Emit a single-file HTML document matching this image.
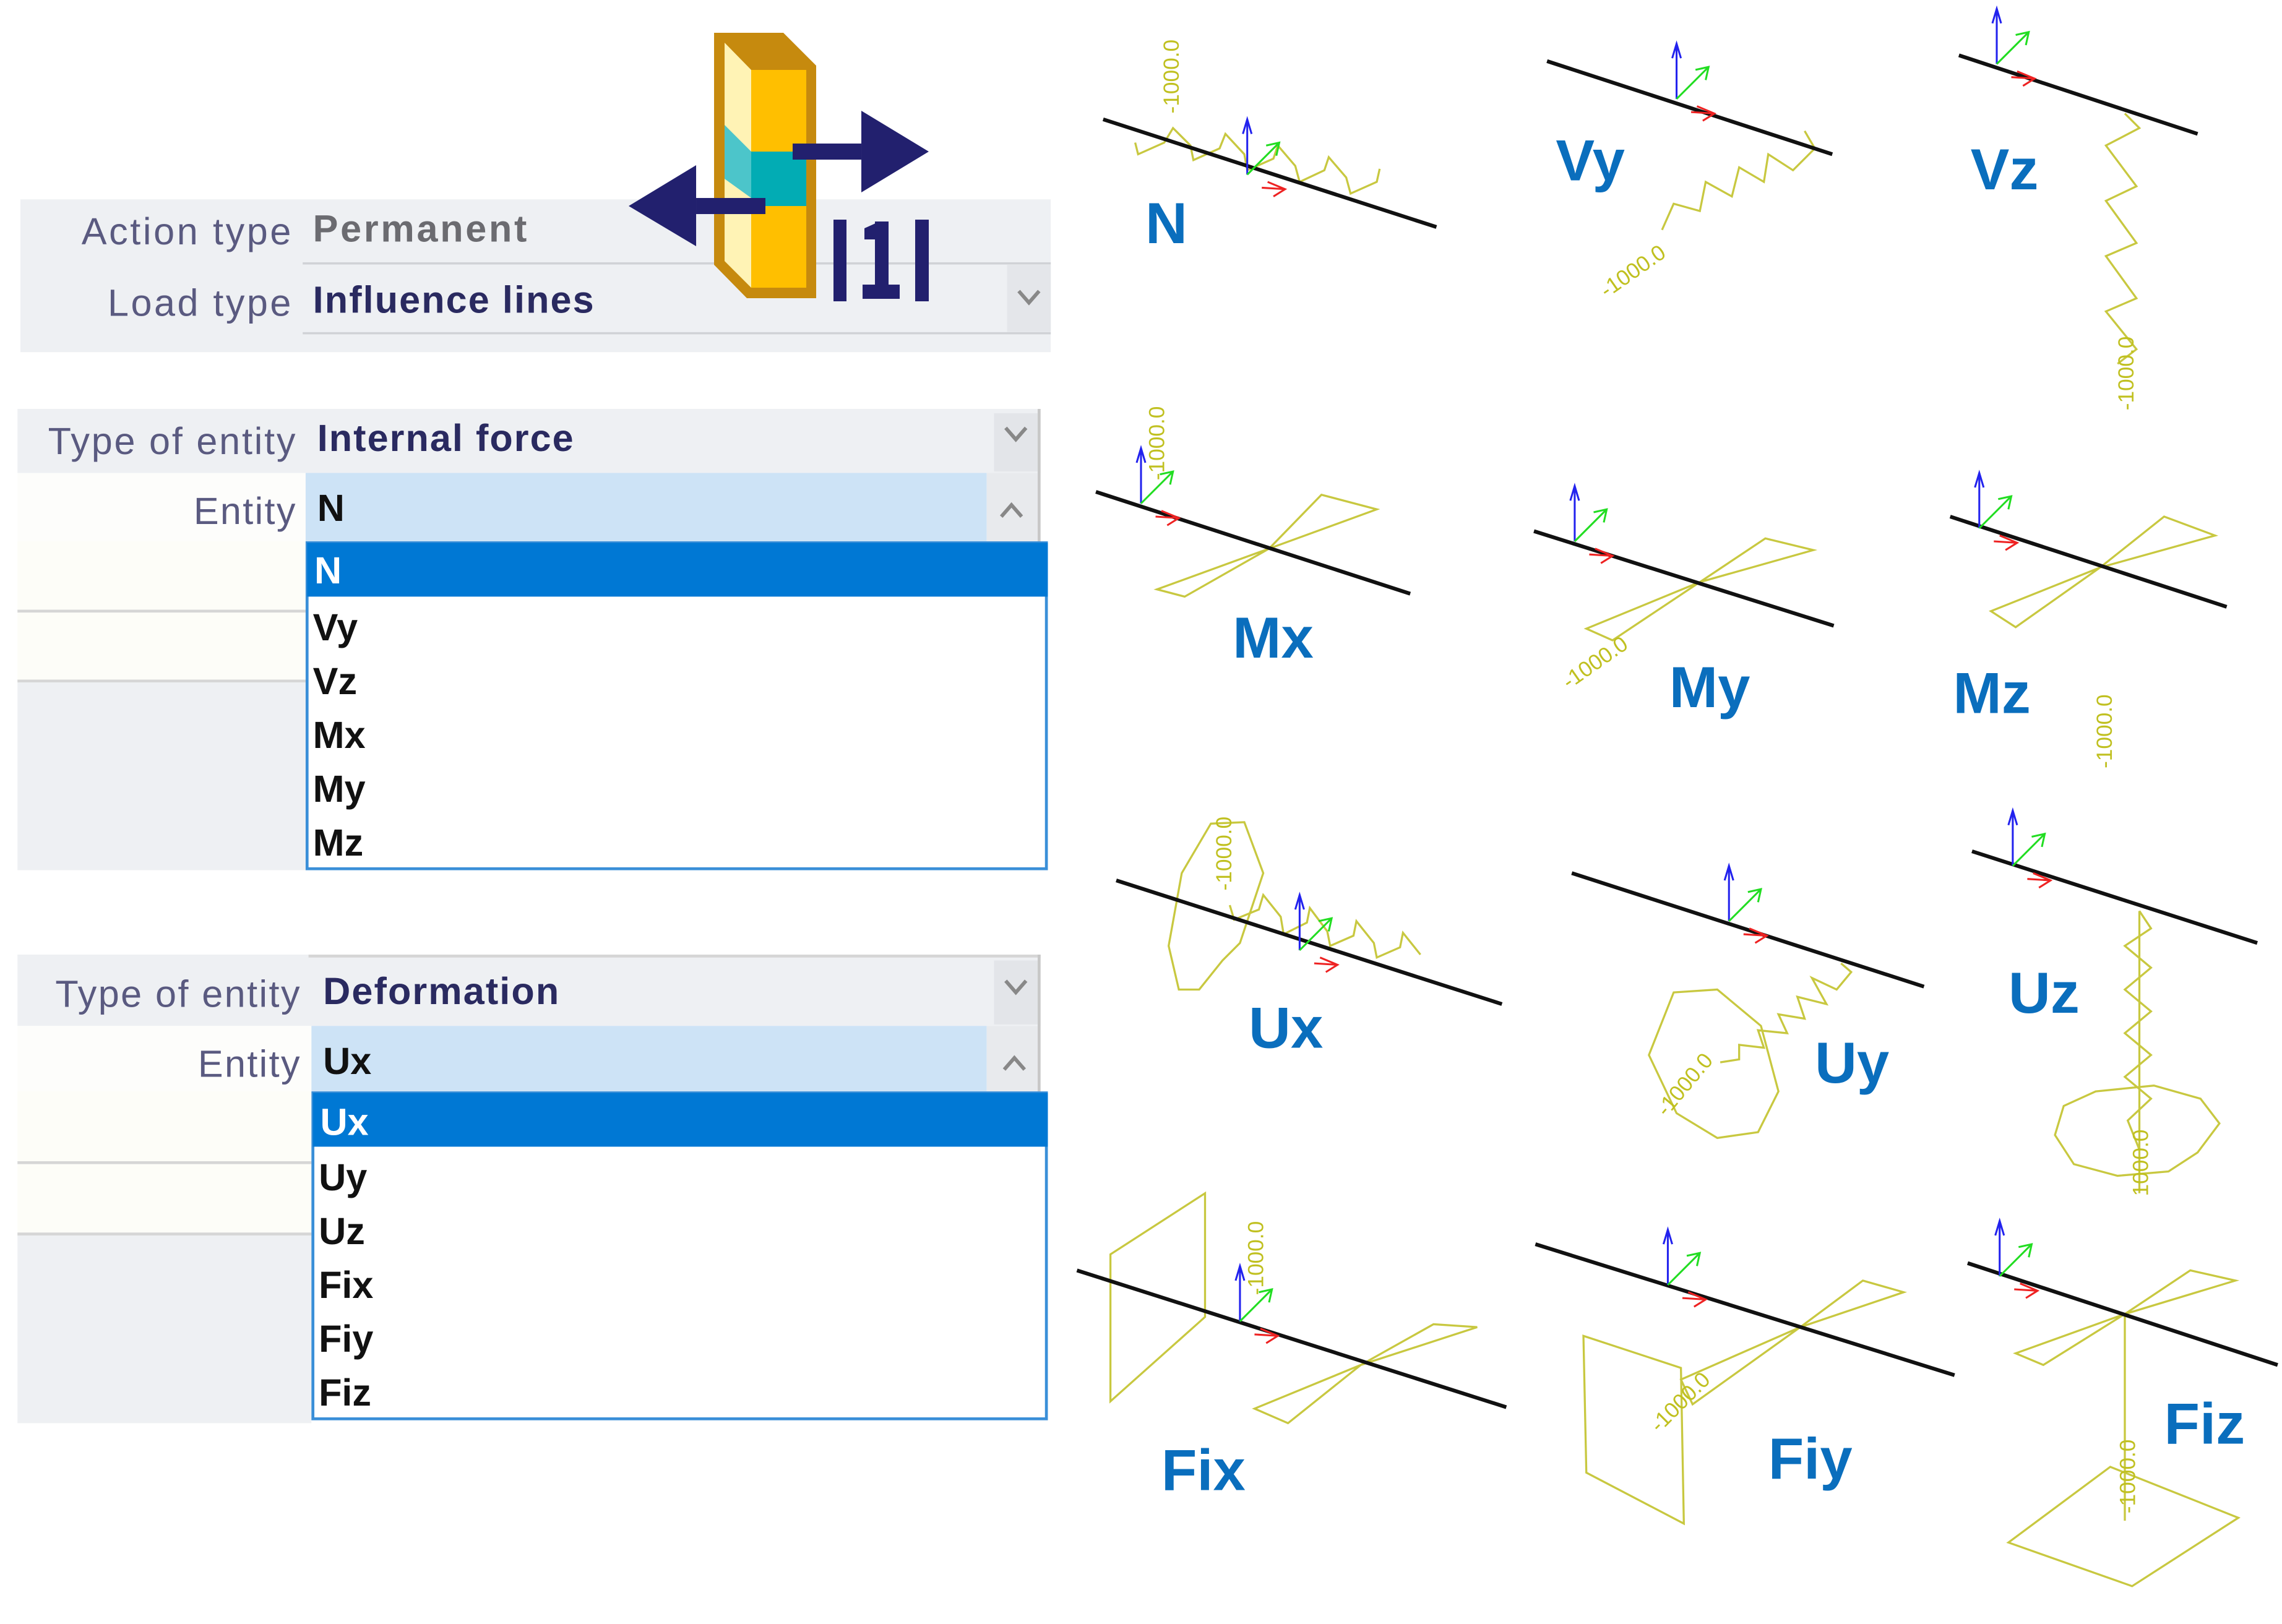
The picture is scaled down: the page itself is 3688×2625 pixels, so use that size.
<!DOCTYPE html>
<html><head><meta charset="utf-8">
<style>
html,body{margin:0;padding:0;background:#fff;}
svg{display:block;}
.lbl{font-family:"Liberation Sans",sans-serif;font-size:26px;fill:#5a5a80;}
.val{font-family:"Liberation Sans",sans-serif;font-size:26px;font-weight:bold;fill:#2a2a60;}
.it{font-family:"Liberation Sans",sans-serif;font-size:26px;font-weight:bold;fill:#111;}
.big{font-family:"Liberation Sans",sans-serif;font-size:40px;font-weight:bold;fill:#0a6ebd;}
.num{font-family:"Liberation Sans",sans-serif;font-size:15px;fill:#c0c020;}
.y{fill:none;stroke:#c8c840;stroke-width:1.4;}
.b{stroke:#111;stroke-width:2.6;}
</style></head><body>
<svg width="3688" height="2625" viewBox="0 0 1568 1116" preserveAspectRatio="none" xmlns="http://www.w3.org/2000/svg">
<defs>
<g id="ax">
<line x1="0" y1="0" x2="0" y2="-38" stroke="#2222ee" stroke-width="1.3"/>
<polyline points="-3,-28 0,-38 3,-28" fill="none" stroke="#2222ee" stroke-width="1.3"/>
<line x1="0" y1="0" x2="22" y2="-22" stroke="#22dd22" stroke-width="1.3"/>
<polyline points="13,-20 22,-22 20,-13" fill="none" stroke="#22dd22" stroke-width="1.3"/>
<polyline points="14,5 26,10 18,15" fill="none" stroke="#ee2222" stroke-width="1.3"/>
<line x1="10" y1="9" x2="26" y2="10" stroke="#ee2222" stroke-width="1.3"/>
</g>
</defs>

<!-- Panel 1 -->
<rect x="14" y="137" width="708" height="105" fill="#eef0f3"/>
<line x1="208" y1="181" x2="722" y2="181" stroke="#d0d2d6" stroke-width="1.5"/>
<line x1="208" y1="229" x2="722" y2="229" stroke="#d0d2d6" stroke-width="1.5"/>
<rect x="692" y="182" width="30" height="46" fill="#e4e6ea"/>
<text class="lbl" x="200" y="168" text-anchor="end" textLength="144">Action type</text>
<text class="val" x="215" y="166" style="fill:#6b6b70" textLength="147">Permanent</text>
<text class="lbl" x="200" y="217" text-anchor="end" textLength="126">Load type</text>
<text class="val" x="215" y="215" textLength="193">Influence lines</text>
<polyline points="700,200 707,208 714,200" fill="none" stroke="#888" stroke-width="2.5"/>

<!-- Icon (original px coords) -->
<g transform="scale(0.42517)">
<polygon points="1154,53 1266,53 1319,106 1319,482 1207,482 1154,428" fill="#c68a0e"/>
<polygon points="1171,69 1214,113 1214,465 1171,422" fill="#fff3b5"/>
<rect x="1214" y="113" width="89" height="352" fill="#ffbf00"/>
<rect x="1214" y="245" width="89" height="88" fill="#02acb4"/>
<polygon points="1171,202 1214,245 1214,320 1171,289" fill="#4cc5ca"/>
<rect x="1281" y="232" width="111" height="26" fill="#22206e"/>
<polygon points="1392,179 1501,245 1392,311" fill="#22206e"/>
<rect x="1125" y="320" width="112" height="26" fill="#22206e"/>
<polygon points="1125,267 1016,333 1125,398" fill="#22206e"/>
<rect x="1347" y="355" width="21" height="132" fill="#22206e"/>
<rect x="1479" y="355" width="22" height="132" fill="#22206e"/>
<rect x="1414" y="358" width="22" height="104" fill="#22206e"/>
<rect x="1394" y="460" width="60" height="23" fill="#22206e"/>
<polygon points="1397,369 1417,360 1416,387 1397,387" fill="#22206e"/>
</g>

<!-- Panel 2 -->
<rect x="12" y="281" width="703" height="44" fill="#eef0f3"/>
<rect x="683" y="284" width="30" height="40" fill="#e3e5e9"/>
<line x1="714" y1="281" x2="714" y2="372" stroke="#c8c8c8" stroke-width="2"/>
<rect x="12" y="325" width="198" height="47" fill="#fdfdfb"/>
<rect x="210" y="325" width="468" height="47" fill="#cde3f6"/>
<rect x="678" y="325" width="35" height="47" fill="#e8eaed"/>
<text class="lbl" x="203" y="312" text-anchor="end" textLength="170">Type of entity</text>
<text class="val" x="218" y="310" textLength="176">Internal force</text>
<polyline points="691,294 698,302 705,294" fill="none" stroke="#888" stroke-width="2.5"/>
<text class="lbl" x="203" y="360" text-anchor="end" textLength="70">Entity</text>
<text class="it" x="218" y="358">N</text>
<polyline points="688,355 695,347 702,355" fill="none" stroke="#888" stroke-width="2.5"/>
<rect x="12" y="372" width="198" height="48" fill="#fdfdf8"/>
<line x1="12" y1="420" x2="210" y2="420" stroke="#d6d6d6" stroke-width="2"/>
<rect x="12" y="421" width="198" height="47" fill="#fdfdf8"/>
<line x1="12" y1="468" x2="210" y2="468" stroke="#d6d6d6" stroke-width="2"/>
<rect x="12" y="469" width="198" height="129" fill="#eef0f3"/>
<rect x="211" y="373" width="508" height="224" fill="#fff" stroke="#3a8fd8" stroke-width="2"/>
<rect x="211" y="373" width="509" height="37" fill="#0078d4"/>
<text class="it" x="216" y="401" style="fill:#fff">N</text>
<text class="it" x="215" y="440">Vy</text>
<text class="it" x="215" y="477">Vz</text>
<text class="it" x="215" y="514">Mx</text>
<text class="it" x="215" y="551">My</text>
<text class="it" x="215" y="588">Mz</text>

<!-- Panel 3 -->
<rect x="12" y="656" width="703" height="49" fill="#eef0f3"/>
<line x1="212" y1="657" x2="715" y2="657" stroke="#d6d6d6" stroke-width="2"/>
<rect x="683" y="660" width="30" height="44" fill="#e3e5e9"/>
<line x1="714" y1="656" x2="714" y2="750" stroke="#c8c8c8" stroke-width="2"/>
<rect x="12" y="705" width="202" height="45" fill="#fdfdfb"/>
<rect x="214" y="705" width="464" height="45" fill="#cde3f6"/>
<rect x="678" y="705" width="35" height="45" fill="#e8eaed"/>
<text class="lbl" x="206" y="692" text-anchor="end" textLength="168">Type of entity</text>
<text class="val" x="222" y="690" textLength="162">Deformation</text>
<polyline points="691,674 698,682 705,674" fill="none" stroke="#888" stroke-width="2.5"/>
<text class="lbl" x="206" y="740" text-anchor="end" textLength="70">Entity</text>
<text class="it" x="222" y="738">Ux</text>
<polyline points="690,735 697,727 704,735" fill="none" stroke="#888" stroke-width="2.5"/>
<rect x="12" y="750" width="202" height="48" fill="#fdfdf8"/>
<line x1="12" y1="799" x2="214" y2="799" stroke="#d6d6d6" stroke-width="2"/>
<rect x="12" y="800" width="202" height="47" fill="#fdfdf8"/>
<line x1="12" y1="848" x2="214" y2="848" stroke="#d6d6d6" stroke-width="2"/>
<rect x="12" y="849" width="202" height="129" fill="#eef0f3"/>
<rect x="215" y="751" width="504" height="224" fill="#fff" stroke="#3a8fd8" stroke-width="2"/>
<rect x="215" y="751" width="505" height="37" fill="#0078d4"/>
<text class="it" x="220" y="780" style="fill:#fff">Ux</text>
<text class="it" x="219" y="818">Uy</text>
<text class="it" x="219" y="855">Uz</text>
<text class="it" x="219" y="892">Fix</text>
<text class="it" x="219" y="929">Fiy</text>
<text class="it" x="219" y="966">Fiz</text>

<!-- N -->
<polyline class="y" points="780,98 782,106 800,98 806,88 818,100 820,110 838,102 842,92 855,106 857,117 875,109 878,100 890,114 893,125 910,117 913,108 925,122 928,133 946,125 948,116"/>
<line class="b" x1="758" y1="82" x2="987" y2="156"/>
<use href="#ax" x="857" y="120"/>
<text class="num" transform="translate(810,78) rotate(-90)">-1000.0</text>
<text class="big" x="787" y="167">N</text>

<!-- Vy -->
<polyline class="y" points="1240,90 1247,102 1232,117 1215,106 1212,125 1195,115 1190,135 1172,125 1168,145 1150,140 1142,158"/>
<line class="b" x1="1063" y1="42" x2="1259" y2="106"/>
<use href="#ax" x="1152" y="68"/>
<text class="num" transform="translate(1104,205) rotate(-35)">-1000.0</text>
<text class="big" x="1069" y="124">Vy</text>

<!-- Vz -->
<polyline class="y" points="1460,78 1470,88 1447,100 1468,128 1447,138 1468,167 1447,176 1468,205 1447,214 1468,240 1455,250"/>
<line class="b" x1="1346" y1="38" x2="1510" y2="92"/>
<use href="#ax" x="1372" y="44"/>
<text class="num" transform="translate(1466,282) rotate(-90)">-1000.0</text>
<text class="big" x="1354" y="130">Vz</text>

<!-- Mx -->
<polygon class="y" points="795,405 814,410 872,377 908,340 946,350 872,377"/>
<line class="b" x1="753" y1="338" x2="969" y2="408"/>
<use href="#ax" x="784" y="346"/>
<text class="num" transform="translate(800,330) rotate(-90)">-1000.0</text>
<text class="big" x="847" y="452">Mx</text>

<!-- My -->
<polygon class="y" points="1090,432 1108,440 1168,400 1213,370 1246,378 1168,400"/>
<line class="b" x1="1054" y1="365" x2="1260" y2="430"/>
<use href="#ax" x="1082" y="372"/>
<text class="num" transform="translate(1078,474) rotate(-35)">-1000.0</text>
<text class="big" x="1147" y="486">My</text>

<!-- Mz -->
<polygon class="y" points="1368,420 1385,431 1443,390 1487,355 1522,368 1443,390"/>
<line class="b" x1="1340" y1="355" x2="1530" y2="417"/>
<use href="#ax" x="1360" y="363"/>
<text class="num" transform="translate(1451,528) rotate(-90)">-1000.0</text>
<text class="big" x="1342" y="490">Mz</text>

<!-- Ux -->
<polygon class="y" points="832,566 855,565 868,600 852,648 840,660 824,680 810,680 803,650 812,600"/>
<polyline class="y" points="845,622 848,632 865,625 868,615 880,630 882,642 898,634 900,624 912,640 914,650 930,643 932,633 944,648 946,658 962,651 964,641 976,656"/>
<line class="b" x1="767" y1="605" x2="1032" y2="690"/>
<use href="#ax" x="893" y="653"/>
<text class="num" transform="translate(846,612) rotate(-90)">-1000.0</text>
<text class="big" x="858" y="720">Ux</text>

<!-- Uy -->
<polygon class="y" points="1150,682 1180,680 1210,705 1222,750 1208,778 1180,782 1152,765 1133,725"/>
<polyline class="y" points="1265,662 1272,668 1262,680 1245,672 1255,690 1235,685 1240,700 1222,697 1228,710 1208,708 1212,720 1195,718 1195,728 1182,730"/>
<line class="b" x1="1080" y1="600" x2="1322" y2="678"/>
<use href="#ax" x="1188" y="633"/>
<text class="num" transform="translate(1145,768) rotate(-50)">-1000.0</text>
<text class="big" x="1247" y="744">Uy</text>

<!-- Uz -->
<polygon class="y" points="1440,750 1480,746 1512,755 1525,772 1510,792 1490,805 1455,808 1425,800 1412,780 1418,760"/>
<polyline class="y" points="1470,626 1478,638 1460,650 1478,665 1460,680 1478,695 1460,710 1478,725 1460,740 1478,755 1462,770 1470,790"/>
<line class="y" x1="1470" y1="626" x2="1470" y2="820"/>
<line class="b" x1="1355" y1="585" x2="1551" y2="648"/>
<use href="#ax" x="1383" y="595"/>
<text class="num" transform="translate(1476,822) rotate(-90)">1000.0</text>
<text class="big" x="1380" y="696">Uz</text>

<!-- Fix -->
<polygon class="y" points="763,862 828,820 828,905 763,963"/>
<polygon class="y" points="862,968 885,978 935,938 985,910 1015,912 935,938"/>
<line class="b" x1="740" y1="873" x2="1035" y2="967"/>
<use href="#ax" x="852" y="908"/>
<text class="num" transform="translate(868,890) rotate(-90)">-1000.0</text>
<text class="big" x="798" y="1024">Fix</text>

<!-- Fiy -->
<polygon class="y" points="1088,918 1155,940 1157,1047 1090,1012"/>
<polygon class="y" points="1155,948 1237,912 1280,880 1308,888 1237,912 1163,965"/>
<line class="b" x1="1055" y1="855" x2="1343" y2="945"/>
<use href="#ax" x="1146" y="883"/>
<text class="num" transform="translate(1140,985) rotate(-45)">-1000.0</text>
<text class="big" x="1215" y="1016">Fiy</text>

<!-- Fiz -->
<polygon class="y" points="1385,930 1404,938 1460,903 1505,873 1536,880 1460,903"/>
<line class="y" x1="1460" y1="903" x2="1460" y2="1045"/>
<polygon class="y" points="1380,1060 1450,1008 1538,1043 1465,1090"/>
<line class="b" x1="1352" y1="868" x2="1565" y2="938"/>
<use href="#ax" x="1374" y="877"/>
<text class="num" transform="translate(1467,1040) rotate(-90)">-1000.0</text>
<text class="big" x="1487" y="992">Fiz</text>
</svg>
</body></html>
